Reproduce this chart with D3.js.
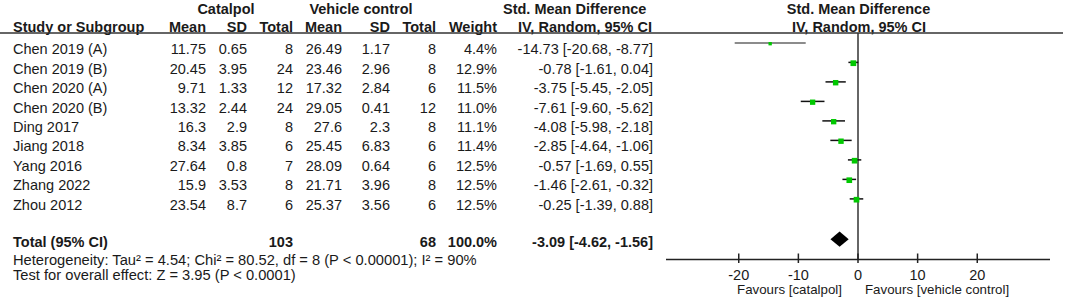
<!DOCTYPE html>
<html>
<head>
<meta charset="utf-8">
<script src="https://d3js.org/d3.v7.min.js"></script>
<style>
  body { margin: 0; background: #fff; }
  svg text { font-family: "Liberation Sans", Arial, sans-serif; fill: #1a1a1a; }
</style>
</head>
<body>
<div id="chart"></div>
<script>
// study data
var studies = ["Chen 2019 (A)", "Chen 2019 (B)", "Chen 2020 (A)", "Chen 2020 (B)", "Ding 2017",
               "Jiang 2018", "Yang 2016", "Zhang 2022", "Zhou 2012"];
var catMean = ["11.75", "20.45", "9.71", "13.32", "16.3", "8.34", "27.64", "15.9", "23.54"];
var catSD   = ["0.65", "3.95", "1.33", "2.44", "2.9", "3.85", "0.8", "3.53", "8.7"];
var catN    = [8, 24, 12, 24, 8, 6, 7, 8, 6];
var vehMean = ["26.49", "23.46", "17.32", "29.05", "27.6", "25.45", "28.09", "21.71", "25.37"];
var vehSD   = ["1.17", "2.96", "2.84", "0.41", "2.3", "6.83", "0.64", "3.96", "3.56"];
var vehN    = [8, 8, 6, 12, 8, 6, 6, 8, 6];
var weights = [4.4, 12.9, 11.5, 11.0, 11.1, 11.4, 12.5, 12.5, 12.5];
var smd     = [-14.73, -0.78, -3.75, -7.61, -4.08, -2.85, -0.57, -1.46, -0.25];
var ciLow   = [-20.68, -1.61, -5.45, -9.60, -5.98, -4.64, -1.69, -2.61, -1.39];
var ciHigh  = [-8.77, 0.04, -2.05, -5.62, -2.18, -1.06, 0.55, -0.32, 0.88];

// pooled
var totalCat = 103, totalVeh = 68, totalWeight = "100.0%";
var pooled = [-3.09, -4.62, -1.56];
var hetText = "Heterogeneity: Tau\u00b2 = 4.54; Chi\u00b2 = 80.52, df = 8 (P < 0.00001); I\u00b2 = 90%";
var testText = "Test for overall effect: Z = 3.95 (P < 0.0001)";

var ticks = [-20, -10, 0, 10, 20];
var favLeft = "Favours [catalpol]", favRight = "Favours [vehicle control]";

var width = 1065, height = 301;
var fs = "14.5px";

var svg = d3.select("#chart").append("svg")
    .attr("width", width).attr("height", height);

// scales
var x = d3.scaleLinear().domain([-32.2, 32.2]).range([666, 1050]);
var rowText = d3.scaleLinear().domain([0, 1]).range([54.3, 73.7]);
var rowMark = d3.scaleLinear().domain([0, 1]).range([42.9, 62.4]);
var axisY = 259.5;

function f2(v) { return v.toFixed(2); }
function ciLabel(m, l, h) { return f2(m) + " [" + f2(l) + ", " + f2(h) + "]"; }

// headers
var head = svg.append("g").style("font-weight", "bold").style("font-size", fs).attr("fill", "#333");
function htxt(t, xx, yy, anchor) {
  head.append("text").attr("x", xx).attr("y", yy).attr("text-anchor", anchor).text(t);
}
htxt("Catalpol", 226, 14, "middle");
htxt("Vehicle control", 361, 14, "middle");
htxt("Std. Mean Difference", 503, 14, "start");
htxt("Std. Mean Difference", 858.5, 14, "middle");
htxt("Study or Subgroup", 13, 31.5, "start");
htxt("Mean", 206, 31.5, "end");
htxt("SD", 247, 31.5, "end");
htxt("Total", 293, 31.5, "end");
htxt("Mean", 342, 31.5, "end");
htxt("SD", 390, 31.5, "end");
htxt("Total", 436, 31.5, "end");
htxt("Weight", 497, 31.5, "end");
htxt("IV, Random, 95% CI", 518, 31.5, "start");
htxt("IV, Random, 95% CI", 859, 31.5, "middle");

svg.append("line").attr("x1", 0).attr("x2", 1063).attr("y1", 33).attr("y2", 33)
    .attr("stroke", "#333").attr("stroke-width", 1.5);

// table rows
var cols = [
  {x: 13, anchor: "start", val: function(i) { return studies[i]; }},
  {x: 206, anchor: "end", val: function(i) { return catMean[i]; }},
  {x: 247, anchor: "end", val: function(i) { return catSD[i]; }},
  {x: 293, anchor: "end", val: function(i) { return catN[i]; }},
  {x: 342, anchor: "end", val: function(i) { return vehMean[i]; }},
  {x: 390, anchor: "end", val: function(i) { return vehSD[i]; }},
  {x: 436, anchor: "end", val: function(i) { return vehN[i]; }},
  {x: 497, anchor: "end", val: function(i) { return weights[i].toFixed(1) + "%"; }},
  {x: 653, anchor: "end", val: function(i) { return ciLabel(smd[i], ciLow[i], ciHigh[i]); }}
];

var rows = svg.append("g").style("font-size", fs);
studies.forEach(function(s, i) {
  cols.forEach(function(c) {
    rows.append("text").attr("x", c.x).attr("y", rowText(i))
      .attr("text-anchor", c.anchor).text(c.val(i));
  });
});

// total row
var tot = svg.append("g").style("font-size", fs).style("font-weight", "bold");
var totY = rowText(10) - 1;
[[13, "start", "Total (95% CI)"], [293, "end", totalCat], [436, "end", totalVeh],
 [497, "end", totalWeight], [653, "end", ciLabel(pooled[0], pooled[1], pooled[2])]]
  .forEach(function(d) {
    tot.append("text").attr("x", d[0]).attr("y", totY).attr("text-anchor", d[1]).text(d[2]);
  });

var notes = svg.append("g").style("font-size", "14.7px");
notes.append("text").attr("x", 13).attr("y", 264.5).text(hetText);
notes.append("text").attr("x", 13).attr("y", 280).text(testText);

// forest plot
var plot = svg.append("g");
plot.append("line").attr("x1", x(0)).attr("x2", x(0)).attr("y1", 33).attr("y2", axisY)
    .attr("stroke", "#333").attr("stroke-width", 1.5);

plot.selectAll("line.ci").data(studies).join("line").attr("class", "ci")
    .attr("x1", function(d, i) { return x(ciLow[i]); })
    .attr("x2", function(d, i) { return x(ciHigh[i]); })
    .attr("y1", function(d, i) { return rowMark(i); })
    .attr("y2", function(d, i) { return rowMark(i); })
    .attr("stroke", function(d, i) { return i === 0 ? "#666" : "#111"; })
    .attr("stroke-width", 1.5);

plot.selectAll("rect.mk").data(studies).join("rect").attr("class", "mk")
    .attr("width", function(d, i) { return 1.6 * Math.sqrt(weights[i]); })
    .attr("height", function(d, i) { return 1.6 * Math.sqrt(weights[i]); })
    .attr("x", function(d, i) { return x(smd[i]) - 0.8 * Math.sqrt(weights[i]); })
    .attr("y", function(d, i) { return rowMark(i) + 0.8 - 0.8 * Math.sqrt(weights[i]); })
    .attr("fill", "#00c800");

var dy = 239.2;
plot.append("path")
    .attr("d", "M" + x(pooled[1]) + "," + dy + "L" + x(pooled[0]) + "," + (dy - 7.6) +
               "L" + x(pooled[2]) + "," + dy + "L" + x(pooled[0]) + "," + (dy + 7.6) + "Z")
    .attr("fill", "#000");

// axis
var ax = plot.append("g").attr("transform", "translate(0," + axisY + ")");
ax.append("line").attr("x1", x.range()[0]).attr("x2", x.range()[1])
    .attr("stroke", "#222").attr("stroke-width", 1.5);
ax.selectAll("line.tk").data(ticks).join("line").attr("class", "tk")
    .attr("x1", x).attr("x2", x).attr("y1", -6).attr("y2", 3.5)
    .attr("stroke", "#222").attr("stroke-width", 1.5);
ax.selectAll("text").data(ticks).join("text")
    .attr("x", x).attr("y", 20.5).attr("text-anchor", "middle")
    .style("font-size", "14.5px").text(function(d) { return d; });

plot.append("text").attr("x", 842).attr("y", 294).attr("text-anchor", "end")
    .style("font-size", "13.3px").text(favLeft);
plot.append("text").attr("x", 865).attr("y", 294).attr("text-anchor", "start")
    .style("font-size", "13.3px").text(favRight);
</script>
</body>
</html>
